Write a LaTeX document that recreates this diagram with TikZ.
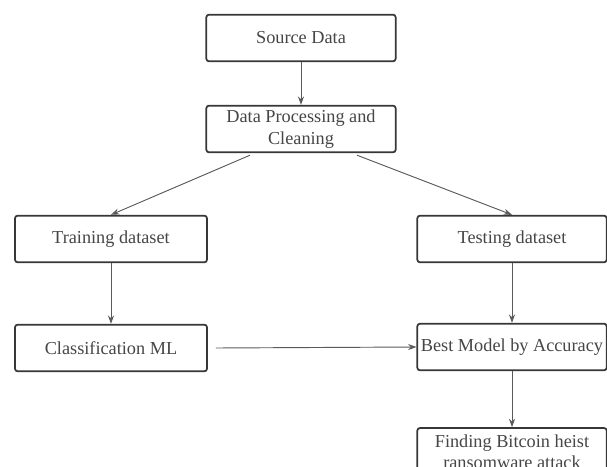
\documentclass[tikz,border=0pt]{standalone}
\usepackage{fontspec}
\setmainfont{Liberation Serif}
\usepackage{tikz}
\usetikzlibrary{arrows.meta,calc}
\definecolor{boxline}{RGB}{55,55,55}
\definecolor{boxtext}{RGB}{70,70,70}
\definecolor{arrline}{RGB}{90,90,90}

\begin{document}
\begin{tikzpicture}[x=0.75pt, y=-0.75pt,
    stage/.style={rectangle, draw=boxline, line width=1.3pt, rounded corners=2pt, fill=white,
               minimum width=142pt, minimum height=35pt, text=boxtext, align=center, inner sep=1pt,
               font=\fontsize{13.7}{16}\selectfont},
    arr/.style={-{Stealth[length=2.2mm, width=1.6mm]}, draw=arrline, line width=0.7pt}
]
    \useasboundingbox (0,0) rectangle (607,467);
    \clip (0,0) rectangle (607,467);
    \node[stage] (src)   at (301,38)  {Source Data};
    \node[stage] (proc)  at (301,129) {Data Processing and\\Cleaning};
    \draw[arr] (src) -- (proc);

    \node[stage, minimum width=144pt] (train) at (111,239) {Training dataset};
    \node[stage] (test)  at (512,239) {Testing dataset};
    \draw[arr] ($(proc.south)+(-51,2)$) -- (train.north);
    \draw[arr] ($(proc.south)+(56,2)$)  -- (test.north);

    \node[stage, minimum width=144pt] (clf) at (111,348) {Classification ML};
    \node[stage] (best)  at (512,347) {Best Model by Accuracy};
    \draw[arr] (train) -- (clf);
    \draw[arr] (test) -- (best);
    \draw[arr] ($(clf.east)+(8,0)$) -- (best.west);

    \node[stage, minimum height=36pt] (find) at (512,452) {Finding Bitcoin heist\\ransomware attack};
    \draw[arr] (best) -- (find);
\end{tikzpicture}
\end{document}
